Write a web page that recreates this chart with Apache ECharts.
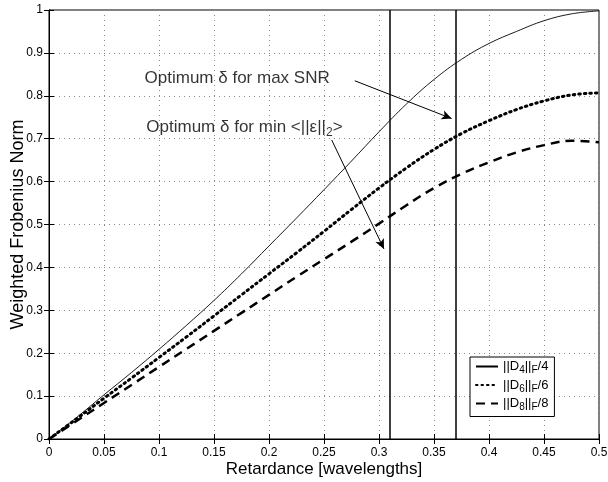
<!DOCTYPE html>
<html><head><meta charset="utf-8">
<script src="https://cdn.jsdelivr.net/npm/echarts@6/dist/echarts.min.js"></script>
<style>html,body{margin:0;padding:0;background:#fff}#c{width:608px;height:482px}</style>
</head><body><div id="c"></div>
<script>
// ---- data ----
const retardance = [0,0.025,0.05,0.075,0.1,0.125,0.15,0.175,0.2,0.225,0.25,0.275,0.3,0.325,0.35,0.375,0.4,0.425,0.45,0.475,0.5];
const normD4 = [0,0.05,0.103,0.155,0.209,0.265,0.323,0.385,0.45,0.515,0.581,0.648,0.716,0.781,0.838,0.885,0.922,0.95,0.975,0.991,0.998];
const normD6 = [0,0.047,0.095,0.142,0.19,0.238,0.287,0.336,0.385,0.434,0.484,0.535,0.585,0.632,0.675,0.712,0.742,0.768,0.788,0.802,0.807];
const normD8 = [0,0.042,0.084,0.126,0.168,0.21,0.252,0.294,0.336,0.378,0.419,0.46,0.502,0.545,0.585,0.618,0.645,0.668,0.685,0.695,0.692];
const seriesNames = ['D4','D6','D8'];
const legendLabels = ['{n|||D}{s|4}{n|||}{s|F}{n|/4}','{n|||D}{s|6}{n|||}{s|F}{n|/6}','{n|||D}{s|8}{n|||}{s|F}{n|/8}'];
const xTickLabels = ['0','0.05','0.1','0.15','0.2','0.25','0.3','0.35','0.4','0.45','0.5'];
const yTickLabels = ['0','0.1','0.2','0.3','0.4','0.5','0.6','0.7','0.8','0.9','1'];
const optimumMinError = 0.309;
const optimumMaxSNR = 0.367;
const annotationText = ['Optimum δ for max SNR','{t|Optimum δ for min <||ε||}{s|2}{t|>}'];
const annotationAnchor = [[0.0864,0.8415],[0.088,0.727]];
const arrowMaxSNR = [[0.278,0.835],[0.366,0.747]];
const arrowMinError = [[0.257,0.697],[0.3045,0.443]];

const FONT = '"Liberation Sans", Arial, Helvetica, sans-serif';
const pair = (xs, ys) => xs.map((x, i) => [x, ys[i]]);

const chart = echarts.init(document.getElementById('c'), null, {renderer: 'canvas'});
const axisCommon = {
  axisLine: {show: true, lineStyle: {color: '#000', width: 1}},
  axisTick: {show: true, inside: true, length: 5, lineStyle: {color: '#000'}}
};
chart.setOption({
  animation: false,
  backgroundColor: '#fff',
  grid: {left: 49, right: 9, top: 10, bottom: 43, containLabel: false, outerBoundsMode: 'none',
         show: true, borderColor: '#000', borderWidth: 1, backgroundColor: 'transparent'},
  xAxis: [
    Object.assign({
      type: 'value', min: 0, max: 0.5, interval: 0.05, position: 'bottom',
      name: 'Retardance [wavelengths]', nameLocation: 'middle', nameGap: 22, nameMoveOverlap: false,
      nameTextStyle: {fontSize: 17, color: '#000', fontFamily: FONT},
      axisLabel: {margin: 8, fontSize: 12, color: '#000', fontFamily: FONT,
        formatter: (v) => xTickLabels[Math.round(v / 0.05)]},
      splitLine: {show: true, lineStyle: {color: '#8a8a8a', type: [1, 4], width: 1}}
    }, axisCommon),
    Object.assign({
      type: 'value', min: 0, max: 0.5, interval: 0.05, position: 'top',
      axisLabel: {show: false}, splitLine: {show: false}
    }, axisCommon)
  ],
  yAxis: [
    Object.assign({
      type: 'value', min: 0, max: 1, interval: 0.1, position: 'left',
      name: 'Weighted Frobenius Norm', nameLocation: 'middle', nameGap: 22, nameMoveOverlap: false,
      nameTextStyle: {fontSize: 18, color: '#000', fontFamily: FONT},
      axisLabel: {margin: 6, fontSize: 12, color: '#000', fontFamily: FONT,
        formatter: (v) => yTickLabels[Math.round(v / 0.1)]},
      splitLine: {show: true, lineStyle: {color: '#8a8a8a', type: [1, 4], width: 1}}
    }, axisCommon),
    Object.assign({
      type: 'value', min: 0, max: 1, interval: 0.1, position: 'right',
      axisLabel: {show: false}, splitLine: {show: false}
    }, axisCommon)
  ],
  legend: {
    data: seriesNames, orient: 'vertical', left: 470, top: 357,
    itemWidth: 22, itemHeight: 10, itemGap: 3,
    padding: [3, 6, 4, 5],
    borderColor: '#000', borderWidth: 1, borderRadius: 0, backgroundColor: '#fff',
    itemStyle: {opacity: 0},
    lineStyle: {opacity: 1},
    formatter: (name) => legendLabels[seriesNames.indexOf(name)],
    textStyle: {color: '#000', fontFamily: FONT, fontSize: 13,
      rich: {n: {fontSize: 13, color: '#000', fontFamily: FONT},
             s: {fontSize: 10, color: '#000', fontFamily: FONT, padding: [8, 0, 0, 0]}}}
  },
  series: [
    {name: seriesNames[0], type: 'line', data: pair(retardance, normD4), smooth: 0.4, symbol: 'none', showSymbol: false,
     lineStyle: {color: '#000', width: 0.9, type: 'solid'}, itemStyle: {color: '#000'}, z: 3,
     markLine: {silent: true, symbol: 'none', label: {show: false},
       lineStyle: {color: '#000', width: 1.5, type: 'solid'},
       data: [{xAxis: optimumMinError}, {xAxis: optimumMaxSNR}]}},
    {name: seriesNames[1], type: 'line', data: pair(retardance, normD6), smooth: 0.4, symbol: 'none', showSymbol: false,
     lineStyle: {color: '#000', width: 3, type: [1.5, 4], cap: 'round'}, itemStyle: {color: '#000'}, z: 3},
    {name: seriesNames[2], type: 'line', data: pair(retardance, normD8), smooth: 0.4, symbol: 'none', showSymbol: false,
     lineStyle: {color: '#000', width: 2.5, type: [9, 6]}, itemStyle: {color: '#000'}, z: 3},
    {name: 'annotations', type: 'scatter', symbolSize: 1, itemStyle: {color: 'rgba(0,0,0,0)'}, silent: true, z: 5,
     data: annotationAnchor.map((p, i) => ({value: p})),
     label: {show: true, position: 'right', distance: 0, color: '#000', fontSize: 17, fontFamily: FONT,
       formatter: (p) => annotationText[p.dataIndex],
       rich: {t: {fontSize: 17, color: '#000', fontFamily: FONT},
              s: {fontSize: 12, color: '#000', fontFamily: FONT, padding: [12, 0, 0, 0]}}},
     markLine: {silent: true, symbol: ['none', 'arrow'], symbolSize: [7, 10], label: {show: false},
       lineStyle: {color: '#000', width: 1, type: 'solid'},
       data: [
         [{coord: arrowMaxSNR[0]}, {coord: arrowMaxSNR[1]}],
         [{coord: arrowMinError[0]}, {coord: arrowMinError[1]}]
       ]}}
  ]
});
</script></body></html>
